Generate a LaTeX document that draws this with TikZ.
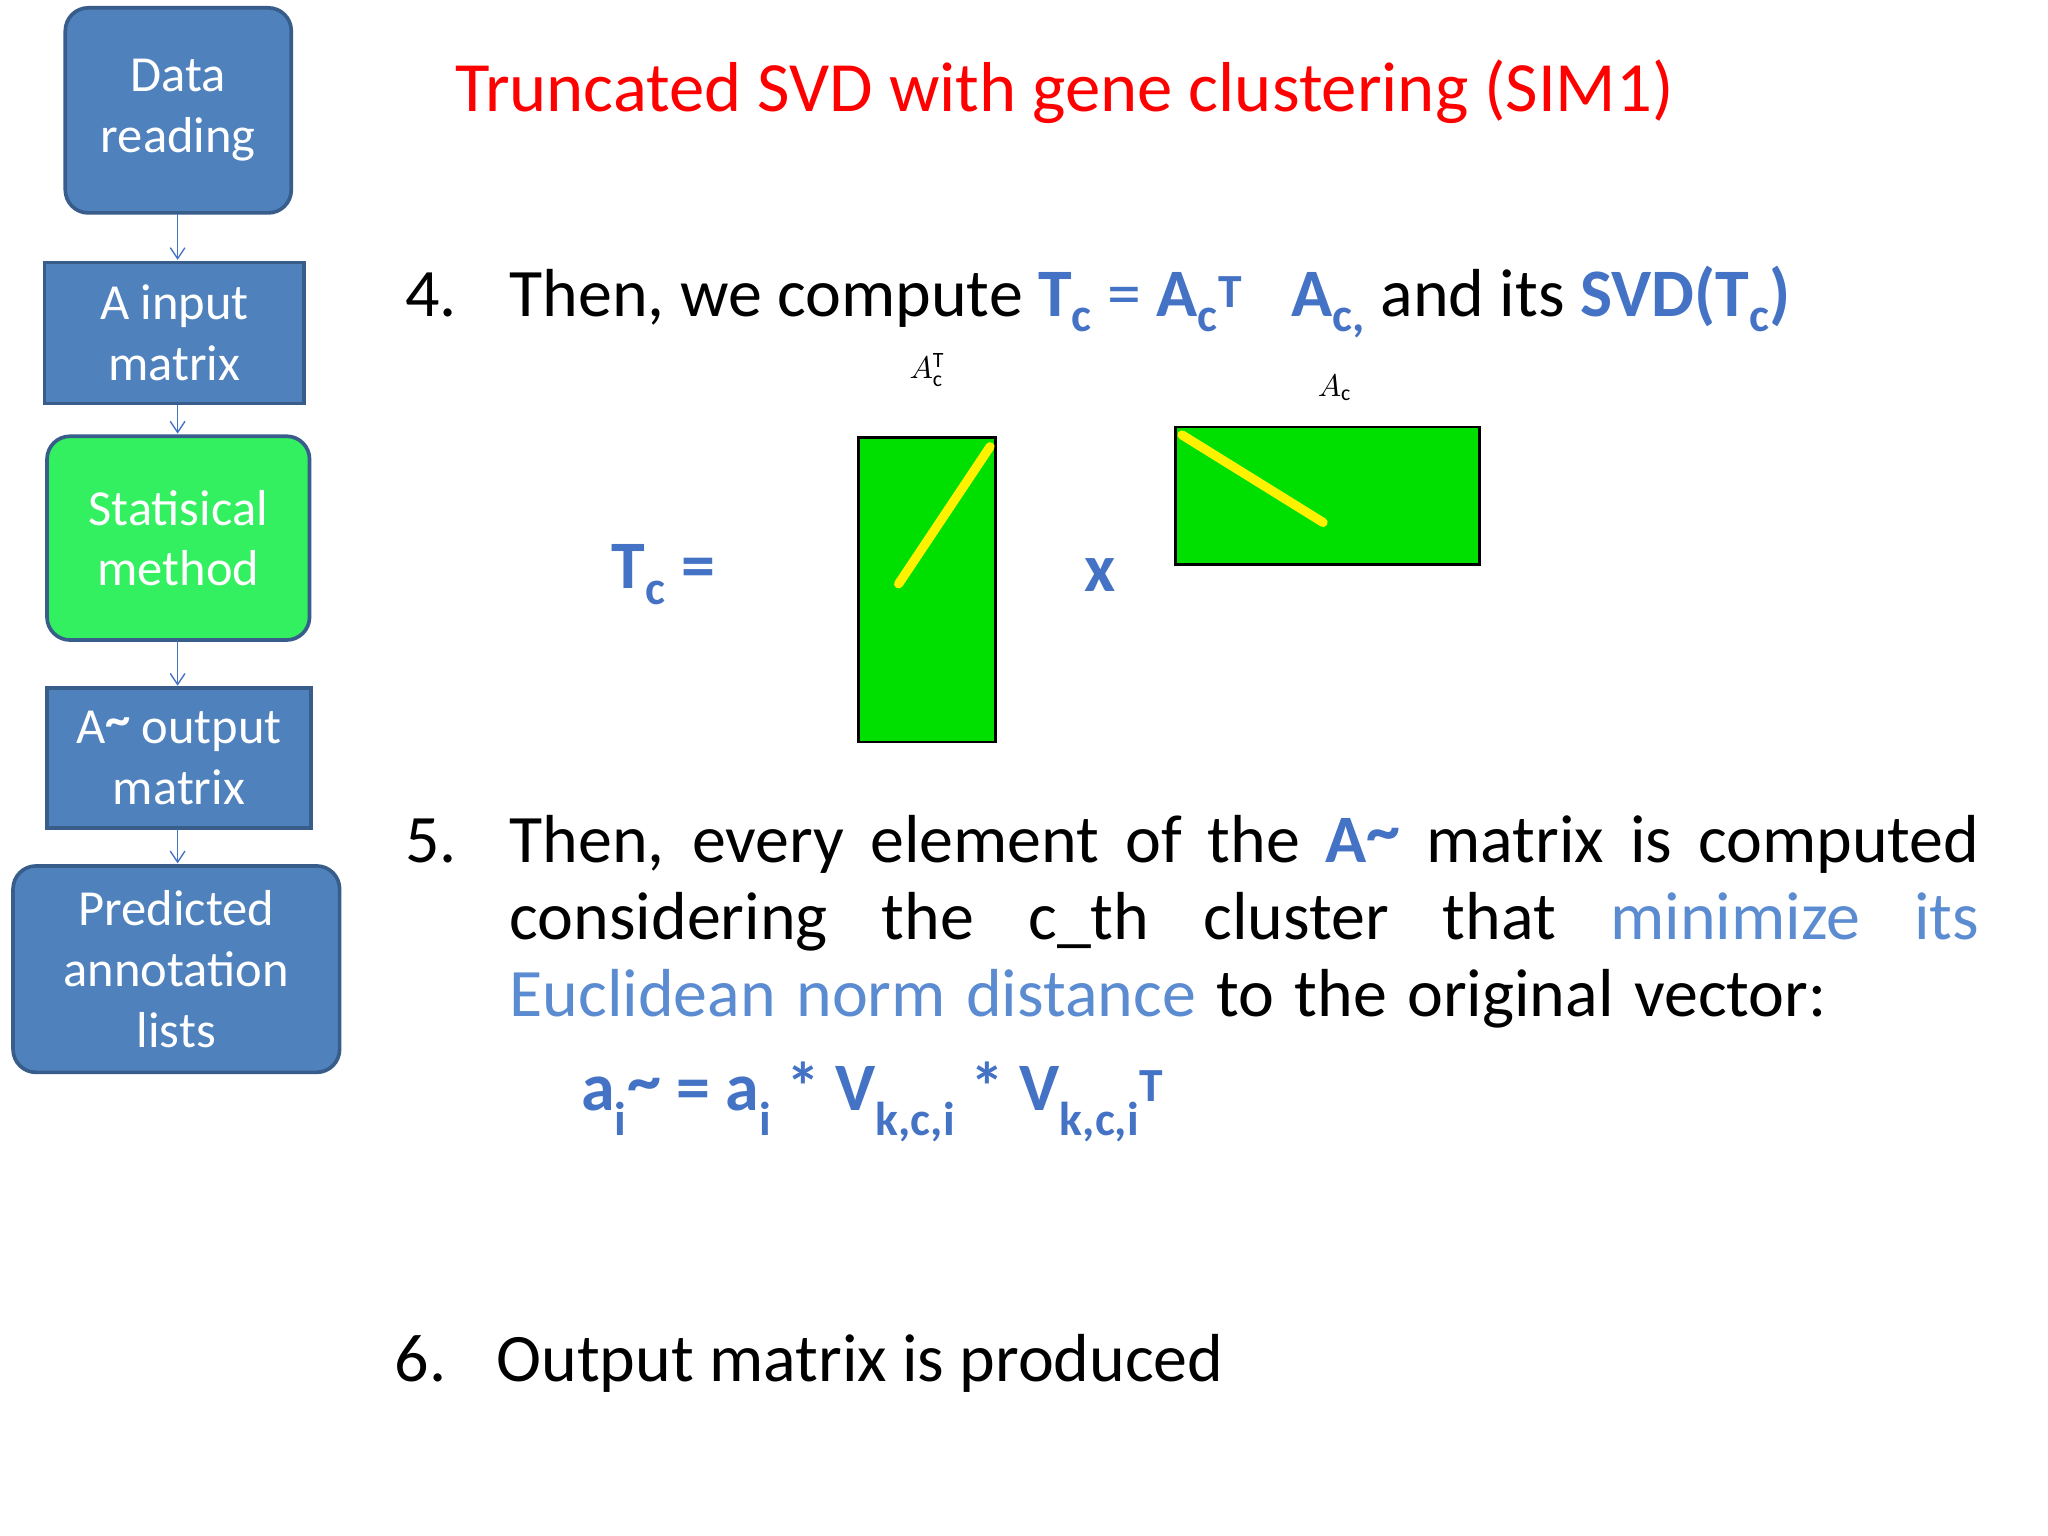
\documentclass[tikz,border=0pt]{standalone}
\usepackage{fontspec}
\setmainfont{Carlito}
\usetikzlibrary{arrows.meta}
\definecolor{bx}{HTML}{4F81BD}
\definecolor{bxd}{HTML}{385D8A}
\definecolor{gr}{HTML}{33F060}
\definecolor{tb}{HTML}{4472C4}
\definecolor{lb}{HTML}{5B8BD0}
\definecolor{mg}{HTML}{00E000}
\tikzset{
 box/.style={draw=bxd,line width=4pt,fill=bx,text=white,align=center,font=\fontsize{55}{66}\selectfont,inner sep=0pt},
 flow/.style={draw=tb,line width=1.5pt,-{Straight Barb[length=12pt,width=16pt]}},
 mat/.style={draw=black,line width=3pt,fill=mg},
 yl/.style={draw=yellow,line width=10pt,line cap=round},
 body/.style={font=\fontsize{74}{86}\selectfont,inner sep=0pt}
}
\newcommand\bb[1]{\textcolor{tb}{\textbf{#1}}}
\begin{document}
\begin{tikzpicture}[x=0.05cm,y=-0.05cm]
\useasboundingbox[fill=white] (0,0) rectangle (1568,1176);
\path[box,rounded corners=25pt] (50,6) rectangle node(d1){Data\\reading} (223,163);
\path[box] (34,201) rectangle node(d2){A input\\matrix} (233,309);
\path[box,fill=gr,rounded corners=25pt] (36,334) rectangle node(d3){Statisical\\method} (237,490);
\path[box] (36,527) rectangle node(d4){A\raisebox{0.3ex}{\textbf{\char`\~}} output\\matrix} (238,634);
\path[box,rounded corners=25pt] (10,663) rectangle node(d5){Predicted\\annotation\\lists} (260,821);
\coordinate (a1) at (136,164); \coordinate (b1) at (136,199);
\coordinate (a2) at (136,310); \coordinate (b2) at (136,332);
\coordinate (a3) at (136,491); \coordinate (b3) at (136,525);
\coordinate (a4) at (136,635); \coordinate (b4) at (136,661);
\draw[flow] (a1)--(b1); \draw[flow] (a2)--(b2); \draw[flow] (a3)--(b3); \draw[flow] (a4)--(b4);
\node[body,text=red,font=\fontsize{77}{86}\selectfont] (title) at (815,70) {Truncated SVD with gene clustering (SIM1)};
\node[body,anchor=base west] (n4) at (310,242) {4.};
\node[body,anchor=base west] (t4) at (390,242) {Then, we compute \bb{T\textsubscript{c}} \textcolor{tb}{=} \bb{A\textsubscript{c}\textsuperscript{T}}\hspace{0.5em} \bb{A\textsubscript{c,}} and its \bb{SVD(T\textsubscript{c})}};
\node[inner sep=0pt,scale=3.4,transform shape] (l1) at (710,283) {$A^{\mathrm{T}}_{\mathrm{c}}$};
\node[inner sep=0pt,scale=3.4,transform shape] (l2) at (1022,297) {$A_{\mathrm{c}}$};
\path[mat] (657,335) rectangle (762,568);
\draw[yl] (688,447)--(758,342);
\path[mat] (900,327) rectangle (1133,432);
\draw[yl] (905,333)--(1013,400);
\node[body] (tc) at (508,440) {\bb{T\textsubscript{c} =}};
\node[body] (x) at (842,440) {\bb{x}};
\node[body,anchor=base west] (n5) at (310,660) {5.};
\node[body,anchor=base west] (t5) at (390,660) {\parbox[t]{1601pt}{\fontsize{74}{84}\selectfont\spaceskip=0.3em plus 0.6em minus 0.05em Then, every element of the \bb{A\raisebox{0.25ex}{\char`\~}} matrix is computed considering the c\_th cluster that \textcolor{lb}{minimize its Euclidean norm distance} to the original vector:\par}};
\node[body,anchor=base west] (f) at (445,850) {\bb{a\textsubscript{i}\raisebox{0.2ex}{\char`\~} = a\textsubscript{i} * V\textsubscript{k,c,i} * V\textsubscript{k,c,i}\textsuperscript{T}}};
\node[body,anchor=base west] (n6) at (302,1058) {6.};
\node[body,anchor=base west] (t6) at (380,1058) {Output matrix is produced};
\end{tikzpicture}
\end{document}
